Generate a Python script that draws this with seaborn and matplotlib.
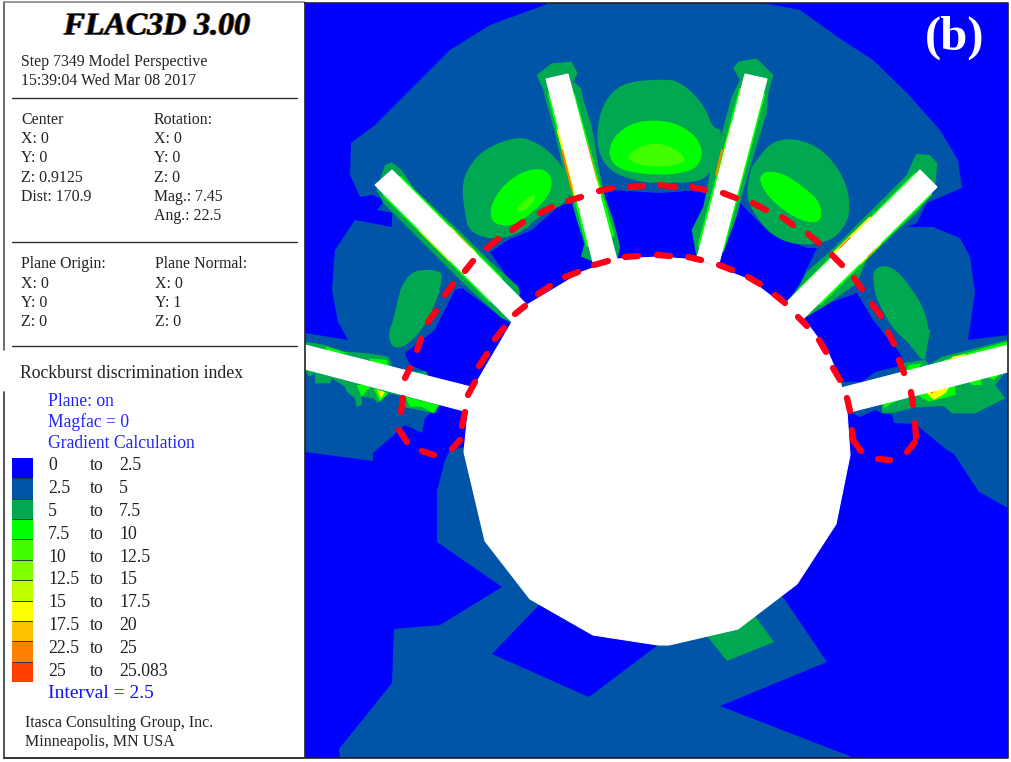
import numpy as np
import pandas as pd
import matplotlib
matplotlib.use("Agg")
import matplotlib.pyplot as plt
import matplotlib.patheffects as pe
from matplotlib.colors import ListedColormap
import seaborn as sns

sns.set_theme(style="white")
plt.rcParams["font.family"] = ["Liberation Serif", "DejaVu Serif"]

# ---- legend data ----
BAND_COLORS = ["#0000FF", "#0055A8", "#00A851", "#00FF00", "#40FF00", "#80FF00",
               "#C0FF00", "#FFFF00", "#FFC000", "#FF8000", "#FF4000"]
BAND_FROM = ["0", "2.5", "5", "7.5", "10", "12.5", "15", "17.5", "22.5", "25"]
BAND_TO = ["2.5", "5", "7.5", "10", "12.5", "15", "17.5", "20", "25", "25.083"]
BLUE, DARK, GREEN, LIME, L2, L3, L4, YEL, AMB, ORG, RED = BAND_COLORS

def c1(p): return [(305 + x / 3, y / 3) for x, y in p]
def c2(p): return [(660 + x / 3, y / 3) for x, y in p]
def c6(p): return [(305 + x / 3, 330 + y / 3) for x, y in p]
def c7(p): return [(832 + x / 3, 330 + y / 3) for x, y in p]

def rounded(poly, n=2):
    """Corner-cut an outline so a contour lobe reads as a curve."""
    pts = np.array(poly, float)
    for _ in range(n):
        nxt = np.roll(pts, -1, axis=0)
        pts = np.column_stack([0.75 * pts + 0.25 * nxt, 0.25 * pts + 0.75 * nxt]).reshape(-1, 2)
    return [tuple(p) for p in pts]

# ---- contour regions ----
upper_band = [(305,333),(348,340),(338,322),(332,290),(335,250),(355,220),(392,227),(392,213),
    (377,210),(385,200),(372,195),(360,197),(350,175),(351,143),(375,125),(400,100),(450,50),
    (490,25),(550,3),(763,3),(800,10),(842,40),(873,60),(907,93),(940,130),(958,160),(962,188),
    (927,203),(917,223),(907,227),(933,227),(960,238),(970,257),(975,293),(968,340),(1008,335),
    (1008,508),(979,492),(954,454),(947,450),(915,424),(894,423),(892,415),(882,413),(875,410),
    (860,417),(847,410),(837,382),(862,382),(875,372),(904,365),(900,353),(873,320),(857,293),
    (823,305),(788,303),(800,283),(817,248),(807,248),(770,233),(740,203),(700,190),(660,193),
    (610,190),(572,202),(558,207),(532,230),(508,240),(490,252),(527,306),(512,325),(462,288),
    (455,290),(438,323),(435,330),(405,353),(410,365),(427,372),(440,405),(425,418),(422,433),
    (405,425),(373,453),(373,461),(305,452)]
lower_band = [(464,447),(450,450),(445,460),(437,491),(437,542),(502,587),(440,625),(394,629),
    (392,683),(339,749),(340,757),(852,757),(720,706),(827,662),(783,597),(660,560)]
lower_hole = [(540,604),(492,654),(589,697),(658,645),(593,635)]
lower_green = [(707,636),(727,661),(774,642),(755,616)]

green_lobes = [
    c1([(330,810),(400,810),(415,830),(385,930),(340,1005),(290,1045),(260,1040),(250,1000),(265,960),(285,870),(300,840)]),
    c1([(470,560),(490,500),(540,445),(640,408),(700,430),(750,470),(790,530),(800,600),(700,650),(660,690),(600,715),(540,715),(490,690),(480,640)]),
    [(598,120),(607,97),(625,82),(665,79),(680,82),(697,97),(707,112),(713,128),(723,130),(715,165),(703,182),(660,183),(640,182),(610,172),(597,150)],
    c2([(290,480),(330,430),(380,415),(440,425),(500,460),(550,530),(570,600),(565,660),(530,710),(480,730),(420,735),(360,720),(310,680),(270,620),(260,580),(270,510)]),
    c2([(640,810),(670,795),(710,810),(750,860),(790,920),(810,1000),(800,1040),(790,1080),(750,1030),(700,990),(650,900),(640,850)]),
]
green_halos = [
    c1([(240,495),(260,487),(290,510),(330,570),(460,690),(552,780),(640,860),(645,880),(620,965),(590,955),(485,860),(385,760),(285,660),(235,610),(215,570)]),
    c1([(695,225),(740,190),(800,185),(818,220),(805,245),(828,265),(835,300),(858,370),(868,420),(880,500),(900,590),(925,660),(945,740),(937,780),(865,785),(828,770),(838,730),(815,660),(775,510),(750,400),(722,300),(715,270)]),
    c2([(220,205),(235,185),(290,175),(340,225),(325,280),(320,340),(292,430),(250,570),(230,650),(200,730),(170,800),(110,775),(95,690),(130,620),(150,520),(185,400),(215,290),(240,240)]),
    c2([(755,490),(770,462),(810,465),(832,490),(825,565),(770,640),(700,700),(620,780),(590,850),(500,915),(432,955),(372,915),(420,855),(440,815),(510,755),(600,665),(680,585),(740,525)]),
    c6([(0,35),(60,45),(120,65),(190,70),(250,80),(262,112),(300,125),(365,125),(365,155),(0,120)]),
    c6([(0,120),(12,140),(30,130),(30,160),(75,160),(80,145),(120,170),(125,185),(150,205),(155,230),(170,225),(170,200),(205,205),(218,220),(250,190),(300,200),(300,232),(340,240),(390,250),(405,225),(200,150)]),
    c7([(210,100),(240,95),(280,90),(290,105),(330,80),(410,60),(525,30),(525,60),(215,150)]),
    c7([(190,0),(295,0),(285,50),(280,90),(265,85),(230,40)]),
    c7([(150,250),(185,248),(250,232),(335,228),(360,250),(430,250),(520,205),(490,165),(525,120),(525,100),(150,215)]),
]
lime_lobes = [
    c1([(555,620),(590,560),(650,515),(715,503),(745,540),(730,590),(680,640),(620,680),(560,670)]),
    [(608,155),(613,137),(633,122),(660,120),(680,125),(697,137),(703,153),(698,167),(683,173),(660,175),(635,173),(617,168)],
    c2([(297,530),(320,513),(370,520),(430,560),(480,605),(487,660),(450,670),(400,650),(345,610),(310,570)]),
]
lime_patches = [
    c6([(60,50),(130,70),(70,70)]),
    c6([(155,165),(170,200),(200,165)]),
    c6([(190,85),(245,90),(250,110),(200,95)]),
    c6([(205,175),(225,215),(250,190)]),
    c6([(300,200),(315,230),(350,230),(385,250),(400,225)]),
    c7([(155,235),(215,200),(245,190),(155,215)]),
    c7([(258,195),(290,215),(330,205),(370,195),(370,165),(258,185)]),
    c7([(410,155),(420,165),(450,165),(445,140)]),
    c7([(465,140),(485,150),(510,125),(465,130)]),
    c7([(230,105),(270,100),(250,125),(220,130)]),
    c7([(335,90),(400,70),(525,35),(525,60),(340,105)]),
]
light_regions = [
    c1([(635,625),(670,590),(695,585),(680,615),(645,640)]),
    [(625,157),(642,145),(660,143),(677,150),(687,160),(677,165),(660,167),(638,165)],
]
yellow_regions = [
    c6([(215,178),(228,205),(240,186)]),
    c7([(285,190),(305,210),(340,190),(355,165),(290,175)]),
    c7([(360,80),(400,72),(400,85),(355,95)]),
]
orange_regions = [c7([(290,180),(300,192),(310,178)])]

# glow strips along the cut walls: x0, y0, x1, y1
lime_strips = [(385,195,490,300),(400,178,500,278),(550,95,588,245),(573,95,612,235),
    (741,90,700,245),(763,95,722,250),(915,175,800,290),(930,194,820,303)]
yellow_strips = [(420,230,450,260),(450,228,475,253),(558,130,575,195),(580,125,600,195),
    (732,125,718,180),(752,125,738,180),(870,218,835,252),(880,243,860,263)]
hot_strips = [(455,233,470,248),(562,150,572,190),(587,145,596,180),(722,150,716,175),
    (746,155,740,180),(850,238,840,248),(875,248,868,256)]

# excavations
cut_walls = [
    [(305,345),(475,388),(468,412),(305,369)],
    [(392,170),(375,185),(512,322),(527,305)],
    [(546,79),(568,74),(617,260),(593,262)],
    [(745,74),(767,79),(718,267),(697,258)],
    [(920,170),(937,187),(804,318),(784,305)],
    [(841,388),(1008,345),(1008,372),(850,412)],
]
chamber = [(464,452),(485,541),(530,599),(593,635),(658,645),(669,645),(738,629),(797,584),
    (836,524),(850,455),(847,412),(840,380),(827,350),(803,318),(783,305),(750,280),(717,267),
    (697,260),(660,257),(617,259),(582,272),(527,305),(512,322),(478,380),(468,412)]

# red dashed loop, one entry per dash
dash_paths = [[(405,378),(410,368)],[(417,350),(421,339)],[(428,322),(436,311)],[(445,295),(453,284)],
    [(465,271),(473,261)],[(487,248),(498,239)],[(512,230),(523,222)],[(540,213),(552,207)],
    [(568,201),(581,197)],[(599,191),(612,188)],[(630,187),(643,186)],[(660,185),(675,187)],
    [(692,187),(705,190)],[(723,193),(736,198)],[(753,203),(766,210)],[(782,217),(793,225)],
    [(808,234),(819,243)],[(832,255),(842,265)],[(854,278),(862,289)],[(872,304),(881,316)],
    [(888,332),(894,344)],[(899,360),(904,373)],[(911,392),(913,405)],[(915,423),(916,437)],
    [(915,442),(907,452)],[(890,460),(878,459)],[(861,451),(853,440),(852,430)],[(850,411),(847,398)],
    [(833,368),(840,380)],[(819,340),(826,352)],[(798,317),(807,326)],[(775,295),(785,303)],
    [(748,277),(760,284)],[(719,265),(732,270)],[(688,257),(701,260)],[(657,255),(670,256)],
    [(625,257),(638,256)],[(594,265),(608,261)],[(565,277),(578,272)],[(538,294),(550,286)],
    [(515,314),(525,306)],[(495,339),(504,328)],[(479,366),(487,354)],[(468,395),(475,382)],
    [(462,426),(465,412)],[(460,440),(452,449)],[(434,455),(422,451)],[(407,442),(399,430)],
    [(401,412),(403,398)]]

# ---- figure ----
fig = plt.figure(figsize=(10.12, 7.62), dpi=100, facecolor="white")
ax = fig.add_axes([0, 0, 1, 1])
ax.set_xlim(0, 1012)
ax.set_ylim(762, 0)
ax.axis("off")

def fill(poly, color, z, edge=0.0):
    xs, ys = zip(*poly)
    ax.fill(xs, ys, facecolor=color, edgecolor=color, lw=edge, zorder=z)

def strips(items, color, width, z):
    for x0, y0, x1, y1 in items:
        ax.plot([x0, x1], [y0, y1], color=color, lw=width, solid_capstyle="round", zorder=z)

fill([(305, 3), (1008, 3), (1008, 758), (305, 758)], BLUE, 1)
fill(upper_band, DARK, 2)
fill(lower_band, DARK, 2)
fill(lower_hole, BLUE, 3)
fill(lower_green, GREEN, 3)
for r in green_lobes: fill(rounded(r), GREEN, 4)
for r in green_halos: fill(r, GREEN, 4)
strips(lime_strips, LIME, 3.2, 5)
for r in lime_lobes: fill(rounded(r), LIME, 5)
for r in lime_patches: fill(r, LIME, 5)
for r in light_regions: fill(rounded(r), L2, 6)
strips(yellow_strips, L4, 2.0, 6)
strips(yellow_strips, YEL, 1.5, 7)
for r in yellow_regions: fill(r, YEL, 7)
strips(hot_strips, ORG, 1.5, 8)
for r in orange_regions: fill(r, ORG, 8)
for w in cut_walls: fill(w, "white", 9, edge=0.8)
fill(chamber, "white", 9, edge=0.8)
ax.plot([305, 305, 1008, 1008, 305], [3, 758, 758, 3, 3], color="#222222", lw=1.2, zorder=10)

dash_df = pd.DataFrame([(i, x, y) for i, d in enumerate(dash_paths) for x, y in d],
                       columns=["dash", "x", "y"])
sns.lineplot(data=dash_df, x="x", y="y", units="dash", estimator=None, sort=False, color="#FF0018",
             lw=4.5, solid_capstyle="round", legend=False, ax=ax, zorder=11)
ax.set_xlim(0, 1012)
ax.set_ylim(762, 0)
ax.axis("off")

ax.text(955, 38, "(b)", color="white", fontsize=35, fontweight="bold", ha="center", va="center", zorder=12)

# left panel
ax.plot([4, 4], [2, 350], color="#555555", lw=1.2)
ax.plot([4, 304], [2, 2], color="#888888", lw=1.2)
ax.plot([4, 4], [392, 758], color="#333333", lw=1.2)
ax.plot([4, 304], [758, 758], color="#333333", lw=1.4)
for yy in (98, 242, 346):
    ax.plot([12, 297], [yy, yy], color="#333333", lw=1)

ax.text(157, 27, "FLAC3D 3.00", fontsize=23, fontweight="bold", fontstyle="italic", color="black",
        ha="center", va="center",
        path_effects=[pe.SimplePatchShadow(offset=(-0.7, 0), shadow_rgbFace="#E08000", alpha=1),
                      pe.SimplePatchShadow(offset=(0.7, 0), shadow_rgbFace="#2060C0", alpha=1),
                      pe.Normal()])

TXT = 11.4
info_rows = [(21, 61, "Step 7349 Model Perspective"), (21, 80, "15:39:04 Wed Mar 08 2017"),
    (21, 119, "Center"), (21, 138, "X: 0"), (21, 157, "Y: 0"), (21, 177, "Z: 0.9125"), (21, 196, "Dist: 170.9"),
    (154, 119, "Rotation:"), (154, 138, "X: 0"), (154, 157, "Y: 0"), (154, 177, "Z: 0"),
    (154, 196, "Mag.: 7.45"), (154, 215, "Ang.: 22.5"),
    (21, 263, "Plane Origin:"), (21, 283, "X: 0"), (21, 302, "Y: 0"), (21, 321, "Z: 0"),
    (155, 263, "Plane Normal:"), (155, 283, "X: 0"), (155, 302, "Y: 1"), (155, 321, "Z: 0")]
for x, y, s in info_rows:
    ax.text(x, y + 1, s, fontsize=TXT, color="#222222", va="center")

ax.text(20, 374, "Rockburst discrimination index", fontsize=12.8, color="#222222", va="center")
for y, s in ((400, "Plane: on"), (421, "Magfac = 0"), (443, "Gradient Calculation")):
    ax.text(48, y + 1, s, fontsize=12.7, color="#2222FF", va="center")
rows_y = np.linspace(465, 670, len(BAND_FROM))
for y, a, b in zip(rows_y, BAND_FROM, BAND_TO):
    ax.text(48, y + 1, a, fontsize=12.8, color="#222222", va="center")
    ax.text(90, y + 1, "to", fontsize=12.8, color="#222222", va="center")
    ax.text(119, y + 1, b, fontsize=12.8, color="#222222", va="center")
ax.text(48, 694, "Interval = 2.5", fontsize=14, color="#1111FF", va="center")
ax.text(25, 723, "Itasca Consulting Group, Inc.", fontsize=11.5, color="#222222", va="center")
ax.text(25, 742, "Minneapolis, MN USA", fontsize=11.5, color="#222222", va="center")

# legend swatches
leg = fig.add_axes([12 / 1012, 1 - 682 / 762, 21 / 1012, 224 / 762])
sns.heatmap(np.arange(len(BAND_COLORS)).reshape(-1, 1), cmap=ListedColormap(BAND_COLORS), cbar=False,
            linewidths=0, xticklabels=False, yticklabels=False, ax=leg)
leg.hlines(np.arange(1, len(BAND_COLORS)), 0, 1, color="#333333", lw=0.7)

fig.savefig("out.png", dpi=100)
